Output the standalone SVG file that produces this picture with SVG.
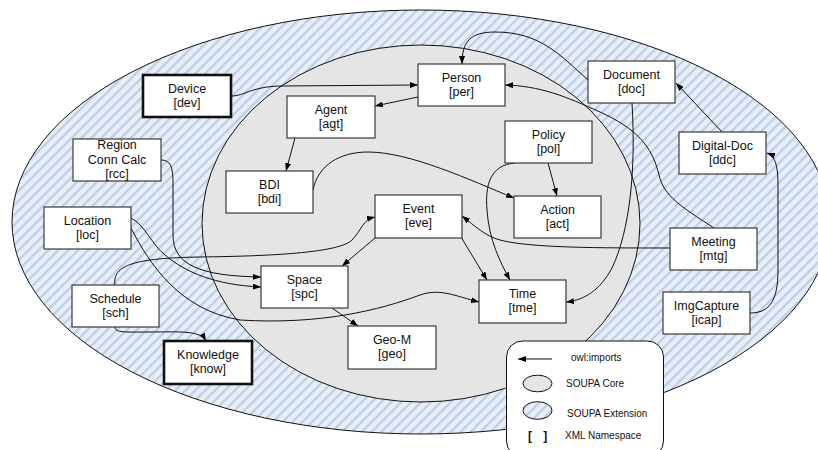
<svg xmlns="http://www.w3.org/2000/svg" width="818" height="450" viewBox="0 0 818 450">
<defs>
<pattern id="hatch" width="7" height="7" patternUnits="userSpaceOnUse" patternTransform="rotate(45)">
<rect width="7" height="7" fill="#e8eef8"/>
<rect x="0" y="0" width="2.2" height="7" fill="#bccde6"/>
</pattern>
<marker id="ah" markerWidth="8" markerHeight="6" refX="8" refY="3" orient="auto" markerUnits="userSpaceOnUse">
<path d="M0,0 L8,3 L0,6 z" fill="#000"/>
</marker>
<marker id="ahl" markerWidth="8" markerHeight="6" refX="0" refY="3" orient="auto" markerUnits="userSpaceOnUse">
<path d="M8,0 L0,3 L8,6 z" fill="#000"/>
</marker>
</defs>
<style>
.box{fill:#fff;stroke:#3a3a3a;stroke-width:1.2}
.thick{fill:#fff;stroke:#111;stroke-width:2.6}
.lbl{font-family:"Liberation Sans",Arial,sans-serif;font-size:12.5px;fill:#111;text-anchor:middle}
.leg{font-family:"Liberation Sans",Arial,sans-serif;font-size:10px;fill:#111}
.con{fill:none;stroke:#111;stroke-width:1;marker-end:url(#ah)}
</style>
<g id="ellipses">
<ellipse cx="421" cy="222" rx="409" ry="212" fill="url(#hatch)" stroke="#111" stroke-width="1"/>
<ellipse cx="421" cy="223.5" rx="219" ry="178.5" fill="#e5e5e5" stroke="#111" stroke-width="1"/>
</g>
<g id="connectors">
<path class="con" d="M231,96 C245,96 250,87 280,86 L418,85"/>
<path class="con" d="M418,97 L375,106"/>
<path class="con" d="M295,138 L286,171"/>
<path class="con" d="M313,190 C318,165 340,152 368,152 C410,152 470,180 514,198"/>
<path class="con" d="M548,163 L557,196"/>
<path class="con" d="M515,163 C490,165 485,185 487,210 C489,240 500,262 510,280"/>
<path class="con" d="M632,103 C636,170 630,230 612,268 C600,290 585,300 566,302"/>
<path class="con" d="M588,80 C560,55 540,32 495,32 C470,32 462,42 462,64"/>
<path class="con" d="M714,228 C680,206 664,196 659,175 C652,145 635,128 600,112 C565,96 540,86 505,85"/>
<path class="con" d="M670,248 C600,248 530,248 500,240 C485,236 475,226 462,216"/>
<path class="con" d="M461,237 L487,280"/>
<path class="con" d="M375,238 L342,266"/>
<path class="con" d="M115,285 C112,265 135,258 200,257 C280,256 340,252 352,240 C362,230 362,220 375,217"/>
<path class="con" d="M161,160 C172,160 173,170 173,185 L173,235 C173,265 200,276 261,277"/>
<path class="con" d="M131,218 C145,225 152,245 165,255 C185,272 215,285 261,287"/>
<path class="con" d="M131,228 C150,265 180,310 240,320 C320,325 380,310 420,295 C440,288 455,296 479,302"/>
<path class="con" d="M332,308 L358,326"/>
<path class="con" d="M115,327 C115,333 125,332 150,332 C180,332 200,330 206,341"/>
<path class="con" d="M722,132 L676,83"/>
<path class="con" d="M750,313 C770,313 778,300 778,270 L778,185 C778,165 775,156 767,153"/>
</g>
<g id="dev"><rect class="thick" x="143" y="75" width="88" height="42"/><text class="lbl" x="187" y="93">Device</text><text class="lbl" x="187" y="106.5">[dev]</text></g>
<g id="per"><rect class="box" x="418" y="64" width="87" height="42"/><text class="lbl" x="461.5" y="82">Person</text><text class="lbl" x="461.5" y="95.5">[per]</text></g>
<g id="doc"><rect class="box" x="588" y="61" width="87" height="42"/><text class="lbl" x="631.5" y="79">Document</text><text class="lbl" x="631.5" y="92.5">[doc]</text></g>
<g id="agt"><rect class="box" x="287" y="96" width="88" height="42"/><text class="lbl" x="331" y="114">Agent</text><text class="lbl" x="331" y="127.5">[agt]</text></g>
<g id="rcc"><rect class="box" x="73" y="139" width="88" height="42"/><text class="lbl" x="117" y="148.5">Region</text><text class="lbl" x="117" y="163.5">Conn Calc</text><text class="lbl" x="117" y="177.5">[rcc]</text></g>
<g id="pol"><rect class="box" x="505" y="121" width="87" height="42"/><text class="lbl" x="548.5" y="139">Policy</text><text class="lbl" x="548.5" y="152.5">[pol]</text></g>
<g id="ddc"><rect class="box" x="679" y="132" width="87" height="42"/><text class="lbl" x="722.5" y="150">Digital-Doc</text><text class="lbl" x="722.5" y="163.5">[ddc]</text></g>
<g id="bdi"><rect class="box" x="226" y="171" width="87" height="42"/><text class="lbl" x="269.5" y="189">BDI</text><text class="lbl" x="269.5" y="202.5">[bdi]</text></g>
<g id="act"><rect class="box" x="514" y="196" width="87" height="42"/><text class="lbl" x="557.5" y="214">Action</text><text class="lbl" x="557.5" y="227.5">[act]</text></g>
<g id="eve"><rect class="box" x="375" y="195" width="87" height="43"/><text class="lbl" x="418.5" y="213">Event</text><text class="lbl" x="418.5" y="226.5">[eve]</text></g>
<g id="loc"><rect class="box" x="44" y="207" width="87" height="42"/><text class="lbl" x="87.5" y="225">Location</text><text class="lbl" x="87.5" y="238.5">[loc]</text></g>
<g id="mtg"><rect class="box" x="670" y="228" width="87" height="42"/><text class="lbl" x="713.5" y="246">Meeting</text><text class="lbl" x="713.5" y="259.5">[mtg]</text></g>
<g id="spc"><rect class="box" x="261" y="266" width="87" height="42"/><text class="lbl" x="304.5" y="284">Space</text><text class="lbl" x="304.5" y="297.5">[spc]</text></g>
<g id="tme"><rect class="box" x="479" y="280" width="87" height="43"/><text class="lbl" x="522.5" y="298">Time</text><text class="lbl" x="522.5" y="311.5">[tme]</text></g>
<g id="sch"><rect class="box" x="72" y="285" width="87" height="42"/><text class="lbl" x="115.5" y="303">Schedule</text><text class="lbl" x="115.5" y="316.5">[sch]</text></g>
<g id="icap"><rect class="box" x="663" y="292" width="87" height="42"/><text class="lbl" x="706.5" y="310">ImgCapture</text><text class="lbl" x="706.5" y="323.5">[icap]</text></g>
<g id="geo"><rect class="box" x="348" y="326" width="88" height="43"/><text class="lbl" x="392" y="344">Geo-M</text><text class="lbl" x="392" y="357.5">[geo]</text></g>
<g id="know"><rect class="thick" x="164" y="341" width="88" height="43"/><text class="lbl" x="208" y="359">Knowledge</text><text class="lbl" x="208" y="372.5">[know]</text></g>
<g id="legend">
<rect x="506.5" y="341" width="157" height="116" rx="16" ry="16" fill="#fff" stroke="#111" stroke-width="1"/>
<line x1="552" y1="359" x2="518" y2="359" stroke="#111" stroke-width="1" marker-end="url(#ah)"/>
<text class="leg" x="571" y="361">owl:imports</text>
<ellipse cx="537.5" cy="383.5" rx="14.5" ry="8.3" fill="#e5e5e5" stroke="#111" stroke-width="1"/>
<text class="leg" x="566" y="387">SOUPA Core</text>
<ellipse cx="537.5" cy="410.5" rx="14.5" ry="8.8" fill="url(#hatch)" stroke="#111" stroke-width="1"/>
<text class="leg" x="567" y="417">SOUPA Extension</text>
<text x="528" y="440" font-family="Liberation Sans, Arial, sans-serif" font-size="12" font-weight="bold" fill="#111" letter-spacing="4">[ ]</text>
<text class="leg" x="565" y="439">XML Namespace</text>
</g>
</svg>
